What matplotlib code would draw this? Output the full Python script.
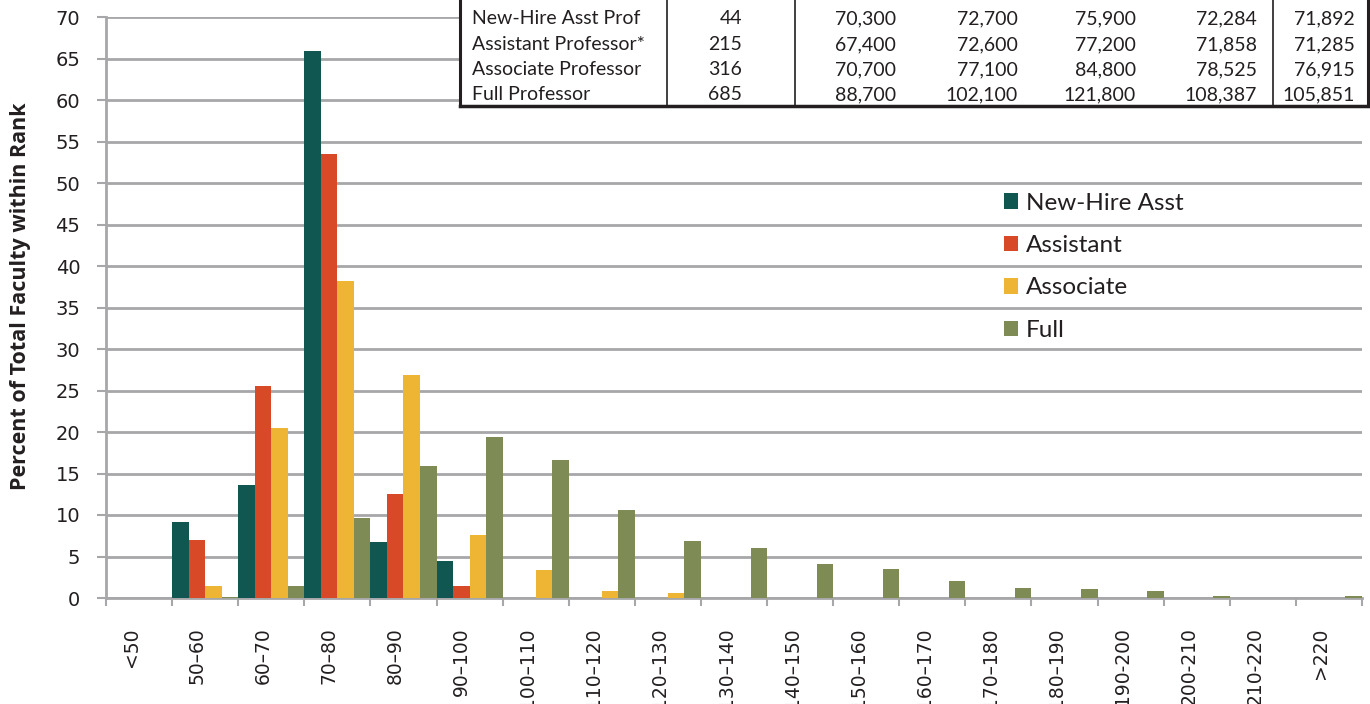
import numpy as np
import matplotlib
matplotlib.use("Agg")
import matplotlib.pyplot as plt
import matplotlib.transforms as mtransforms
from matplotlib.lines import Line2D
from matplotlib.patches import Rectangle

# salary bins (thousands)
categories = ['<50', '50–60', '60–70', '70–80', '80–90', '90–100', '100–110', '110–120',
              '120–130', '130–140', '140–150', '150–160', '160–170', '170–180', '180–190',
              '190-200', '200-210', '210-220', '>220']

new_hire = [0, 9.1, 13.6, 65.9, 6.8, 4.5, 0, 0, 0, 0, 0, 0, 0, 0, 0, 0, 0, 0, 0]
assistant = [0, 7.0, 25.5, 53.5, 12.5, 1.4, 0, 0, 0, 0, 0, 0, 0, 0, 0, 0, 0, 0, 0]
associate = [0, 1.5, 20.5, 38.2, 26.9, 7.6, 3.4, 0.9, 0.6, 0, 0, 0, 0, 0, 0, 0, 0, 0, 0]
full = [0, 0.15, 1.4, 9.6, 15.9, 19.4, 16.6, 10.6, 6.85, 6.0, 4.1, 3.5, 2.0, 1.15, 1.05, 0.85, 0.3, 0, 0.3]

series_names = ['New-Hire Asst', 'Assistant', 'Associate', 'Full']
colors = ['#105752', '#D84A27', '#EEB433', '#7F8B55']

# summary table
table_ranks = ['New-Hire Asst Prof', 'Assistant Professor*', 'Associate Professor', 'Full Professor']
table_counts = ['44', '215', '316', '685']
table_vals = [
    ['70,300', '72,700', '75,900', '72,284', '71,892'],
    ['67,400', '72,600', '77,200', '71,858', '71,285'],
    ['70,700', '77,100', '84,800', '78,525', '76,915'],
    ['88,700', '102,100', '121,800', '108,387', '105,851'],
]

W, H = 1370, 704
fig = plt.figure(figsize=(W / 100, H / 100), dpi=100)
ax = fig.add_axes([106 / W, 1 - 598 / H, (1362 - 106) / W, (598 - 17) / H])

n = len(categories)
x = np.arange(n)
bw = 0.25
for i, (vals, c, name) in enumerate(zip([new_hire, assistant, associate, full], colors, series_names)):
    ax.bar(x - 0.5 + bw * (i + 0.5), vals, width=bw, color=c, label=name, zorder=3,
           edgecolor='none')

ax.set_xlim(-0.5, n - 0.5)
ax.set_ylim(0, 70)
ax.set_yticks(np.arange(0, 71, 5))
ax.yaxis.grid(True, color='#A7A7A9', linewidth=2, zorder=0)
ax.set_axisbelow(True)

for side in ['top', 'right']:
    ax.spines[side].set_visible(False)
for side in ['left', 'bottom']:
    ax.spines[side].set_color('#A7A7A9')
    ax.spines[side].set_linewidth(2)

# ticks at category boundaries, labels at centers
ax.set_xticks(np.arange(n + 1) - 0.5)
ax.set_xticklabels([])
ax.set_xticks(x, minor=True)
ax.set_xticklabels(categories, minor=True, rotation=90, fontsize=13.5,
                   family='DejaVu Sans', color='#231F20', va='top', ha='center')
ax.tick_params(axis='x', which='major', length=6, width=1.5, color='#A7A7A9')
ax.tick_params(axis='x', which='minor', length=0, pad=21)
offset = mtransforms.ScaledTranslation(-8 / 100, 0, fig.dpi_scale_trans)
for lbl in ax.get_xticklabels(minor=True):
    lbl.set_transform(lbl.get_transform() + offset)

ax.tick_params(axis='y', length=6.5, width=1.5, color='#A7A7A9', labelsize=14,
               labelcolor='#231F20', pad=12)
for lbl in ax.get_yticklabels():
    lbl.set_family('DejaVu Sans')

fig.text(21 / W, 1 - 296 / H, 'Percent of Total Faculty within Rank', rotation=90,
         ha='center', va='center', fontsize=15.5, fontweight='bold',
         family='Open Sans', color='#231F20')

leg = ax.legend(loc='upper left', bbox_to_anchor=(994 / W, 1 - 183 / H),
                bbox_transform=fig.transFigure, frameon=False,
                prop={'family': 'Lato', 'size': 17.5},
                handlelength=0.6, handleheight=0.6, handletextpad=0.3,
                labelspacing=0.88, borderaxespad=0)
for t in leg.get_texts():
    t.set_color('#231F20')

# table box (top rows are cut off by the figure edge)
tx0, tx1, tbot = 460, 1368, 106
fig.patches.append(Rectangle((tx0 / W, 1 - tbot / H), (tx1 - tx0) / W, tbot / H + 0.01,
                             transform=fig.transFigure, facecolor='white',
                             edgecolor='none', zorder=5))
fig.lines.append(Line2D([tx0 / W, tx1 / W], [1 - tbot / H, 1 - tbot / H],
                        transform=fig.transFigure, color='#231F20', lw=2.5, zorder=6))
for vx, lwx in [(tx0, 2.2), (667, 1.2), (795, 1.2), (1273, 1.2), (tx1, 2.2)]:
    fig.lines.append(Line2D([vx / W, vx / W], [1 - tbot / H, 1.0],
                            transform=fig.transFigure, color='#231F20', lw=lwx, zorder=6))

row_y = [18.5, 44.5, 69.5, 94.5]
val_right = [896, 1018, 1136, 1257, 1355]
tkw = dict(fontsize=14, family='Lato', color='#231F20', va='center', zorder=7)
for r, ry in enumerate(row_y):
    fig.text(472 / W, 1 - ry / H, table_ranks[r], ha='left', **tkw)
    fig.text(742 / W, 1 - ry / H, table_counts[r], ha='right', **tkw)
    for vx, v in zip(val_right, table_vals[r]):
        fig.text(vx / W, 1 - ry / H, v, ha='right', **tkw)

fig.savefig('out.png', dpi=100)
